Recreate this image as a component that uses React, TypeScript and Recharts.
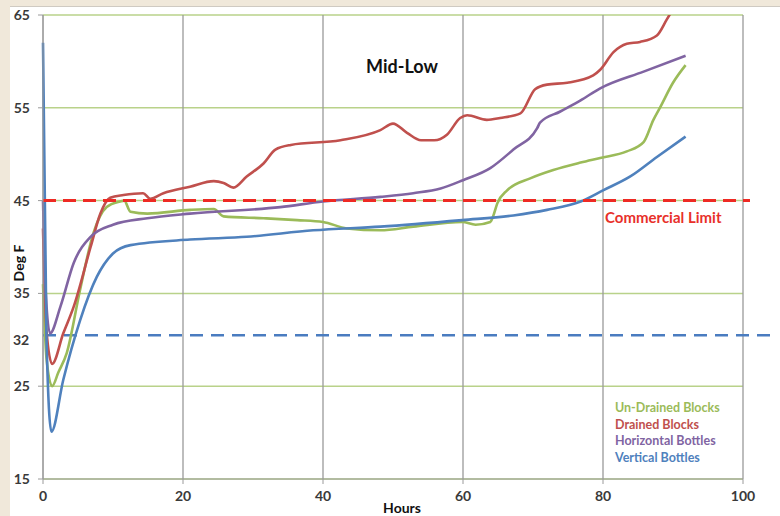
import { LineChart, Line, XAxis, YAxis, CartesianGrid, ReferenceLine } from 'recharts';

// hours / deg F
const undrainedHours = [0, 0.5, 1.3, 2.2, 3.4, 5.3, 7.2, 9.1, 11, 11.6, 12.5, 14.9, 21, 24.4, 25.8, 31.5, 36.3, 40, 43.4, 48.2, 52.9, 59.9, 61.8, 63.9, 64.3, 64.9, 66.3, 69.6, 72.9, 76.8, 79.6, 83.4, 85.8, 87.2, 88.2, 90, 91.8];
const undrainedTemps = [36, 28, 25, 26.5, 28.6, 35.4, 41.5, 44.3, 44.9, 45, 43.8, 43.6, 44.0, 44.1, 43.3, 43.1, 42.9, 42.7, 42.0, 41.8, 42.2, 42.7, 42.4, 42.7, 43.3, 44.7, 46.1, 47.4, 48.3, 49.1, 49.6, 50.3, 51.3, 53.7, 55.1, 57.7, 59.6];

const drainedHours = [0, 0.5, 1.3, 2.9, 4.4, 6.8, 8.2, 9.6, 11.5, 14.3, 15.3, 17.2, 21, 24.4, 25.8, 27.2, 29.1, 31.5, 33.2, 35.4, 42.5, 48.2, 50, 52, 54, 55.9, 57.7, 59.6, 60.6, 63.4, 65.3, 68.2, 70.3, 72, 74.9, 78.6, 79.6, 81.5, 83.4, 85.3, 87.7, 89.1, 91.8];
const drainedTemps = [42, 31, 27.4, 30.7, 33.6, 40.0, 43.6, 45.3, 45.6, 45.8, 45.2, 45.8, 46.5, 47.1, 46.9, 46.4, 47.6, 49.0, 50.5, 51.0, 51.5, 52.6, 53.3, 52.3, 51.5, 51.5, 52.1, 53.9, 54.2, 53.7, 53.9, 54.4, 57.0, 57.5, 57.7, 58.5, 59.1, 61.0, 61.9, 62.1, 62.8, 64.5, 68];

const horizontalHours = [0, 0.4, 1.0, 2.5, 4.4, 6.8, 10, 14.9, 21, 33.9, 40, 48.2, 52.9, 56.8, 60, 63.9, 67.2, 70.6, 71, 73.9, 76.8, 79.6, 85.8, 91.8];
const horizontalTemps = [45, 35, 30.7, 33.6, 38.3, 41.1, 42.4, 43.1, 43.6, 44.3, 44.9, 45.4, 45.8, 46.3, 47.2, 48.5, 50.5, 52.8, 53.4, 54.6, 55.8, 57.1, 58.9, 60.6];

const verticalHours = [0, 0.5, 1.2, 2.9, 5.3, 7.7, 10, 12.5, 21, 29.1, 38.6, 48.2, 59.9, 67.2, 72, 76.8, 80, 83.9, 87.7, 91.8];
const verticalTemps = [62, 30, 20.1, 25.7, 32.1, 36.8, 39.3, 40.2, 40.8, 41.1, 41.8, 42.2, 42.9, 43.4, 44.0, 44.9, 46.1, 47.6, 49.7, 51.9];

const xTicks = [0, 20, 40, 60, 80, 100];
const yTicks = [15, 25, 35, 45, 55, 65];
const commercialLimit = 45;
const freezeLine = 30.5;
const freezeLabel = '32';

const series = [
  { name: 'Un-Drained Blocks', hours: undrainedHours, temps: undrainedTemps, color: '#9bbb59' },
  { name: 'Drained Blocks', hours: drainedHours, temps: drainedTemps, color: '#c0504d' },
  { name: 'Horizontal Bottles', hours: horizontalHours, temps: horizontalTemps, color: '#8064a2' },
  { name: 'Vertical Bottles', hours: verticalHours, temps: verticalTemps, color: '#4f81bd' },
];

const toRows = (hours: number[], temps: number[]) => hours.map((h, i) => ({ h, v: temps[i] }));

const tickStyle = { fill: '#3a3a3a', fontSize: 14, fontFamily: 'Lato', fontWeight: 700 };
const bold = { fontFamily: 'Lato', fontWeight: 700, position: 'absolute' as const, whiteSpace: 'nowrap' as const };

export default function App() {
  return (
    <div style={{ position: 'absolute', left: 0, top: 0, width: 780, height: 516, background: '#f0e8da', overflow: 'hidden' }}>
      <div style={{ position: 'absolute', left: 10, top: 6, right: 0, bottom: 0, background: '#fff', borderTop: '1px solid #cfcac2' }} />
      <div style={{ position: 'absolute', left: 0, top: 0 }}>
        <LineChart width={780} height={516} margin={{ top: 15, right: 37, bottom: 7, left: 13 }}>
          <CartesianGrid vertical={false} stroke="#b9d28a" strokeWidth={1.5} />
          <CartesianGrid horizontal={false} stroke="#9a9a9a" strokeWidth={1.3} />
          <XAxis
            type="number"
            dataKey="h"
            domain={[0, 100]}
            ticks={xTicks}
            height={30}
            tickSize={5}
            tickMargin={7}
            tick={tickStyle}
            stroke="#9a9a9a"
          />
          <YAxis
            type="number"
            dataKey="v"
            domain={[15, 65]}
            allowDataOverflow
            ticks={yTicks}
            width={30}
            tickSize={5}
            tickMargin={8}
            tick={tickStyle}
            stroke="#9a9a9a"
          />
          <ReferenceLine
            segment={[{ x: 0, y: freezeLine }, { x: 105, y: freezeLine }]}
            ifOverflow="visible"
            stroke="#4a7cc0"
            strokeWidth={2.5}
            strokeDasharray="13 8"
          />
          {series.map((s) => (
            <Line
              key={s.name}
              data={toRows(s.hours, s.temps)}
              dataKey="v"
              type="monotone"
              stroke={s.color}
              strokeWidth={2.6}
              dot={false}
              isAnimationActive={false}
            />
          ))}
          <ReferenceLine
            segment={[{ x: 0, y: commercialLimit }, { x: 101, y: commercialLimit }]}
            ifOverflow="visible"
            stroke="#ee2a24"
            strokeWidth={3}
            strokeDasharray="13 7"
          />
        </LineChart>
      </div>
      <div style={{ ...bold, left: 0, width: 780, top: 55, textAlign: 'center', fontSize: 18, color: '#111', paddingLeft: 12 }}>Mid-Low</div>
      <div style={{ ...bold, left: 605, top: 208, fontSize: 15, color: '#e8302a' }}>Commercial Limit</div>
      <div style={{ ...bold, left: 13, top: 331, fontSize: 14, color: '#3a3a3a' }}>{freezeLabel}</div>
      <div style={{ ...bold, left: 0, width: 780, top: 499, textAlign: 'center', fontSize: 14, color: '#111', paddingLeft: 12 }}>Hours</div>
      <svg width={36} height={80} style={{ position: 'absolute', left: 0, top: 223 }}>
        <text
          x={18}
          y={40}
          transform="rotate(-90 18 40)"
          textAnchor="middle"
          dominantBaseline="central"
          fontFamily="Lato"
          fontWeight={700}
          fontSize={14}
          fill="#111"
        >
          Deg F
        </text>
      </svg>
      <div style={{ position: 'absolute', left: 615, top: 400 }}>
        {series.map((s) => (
          <div key={s.name} style={{ ...bold, position: 'static', fontSize: 12.5, lineHeight: '16.6px', color: s.color }}>{s.name}</div>
        ))}
      </div>
    </div>
  );
}
